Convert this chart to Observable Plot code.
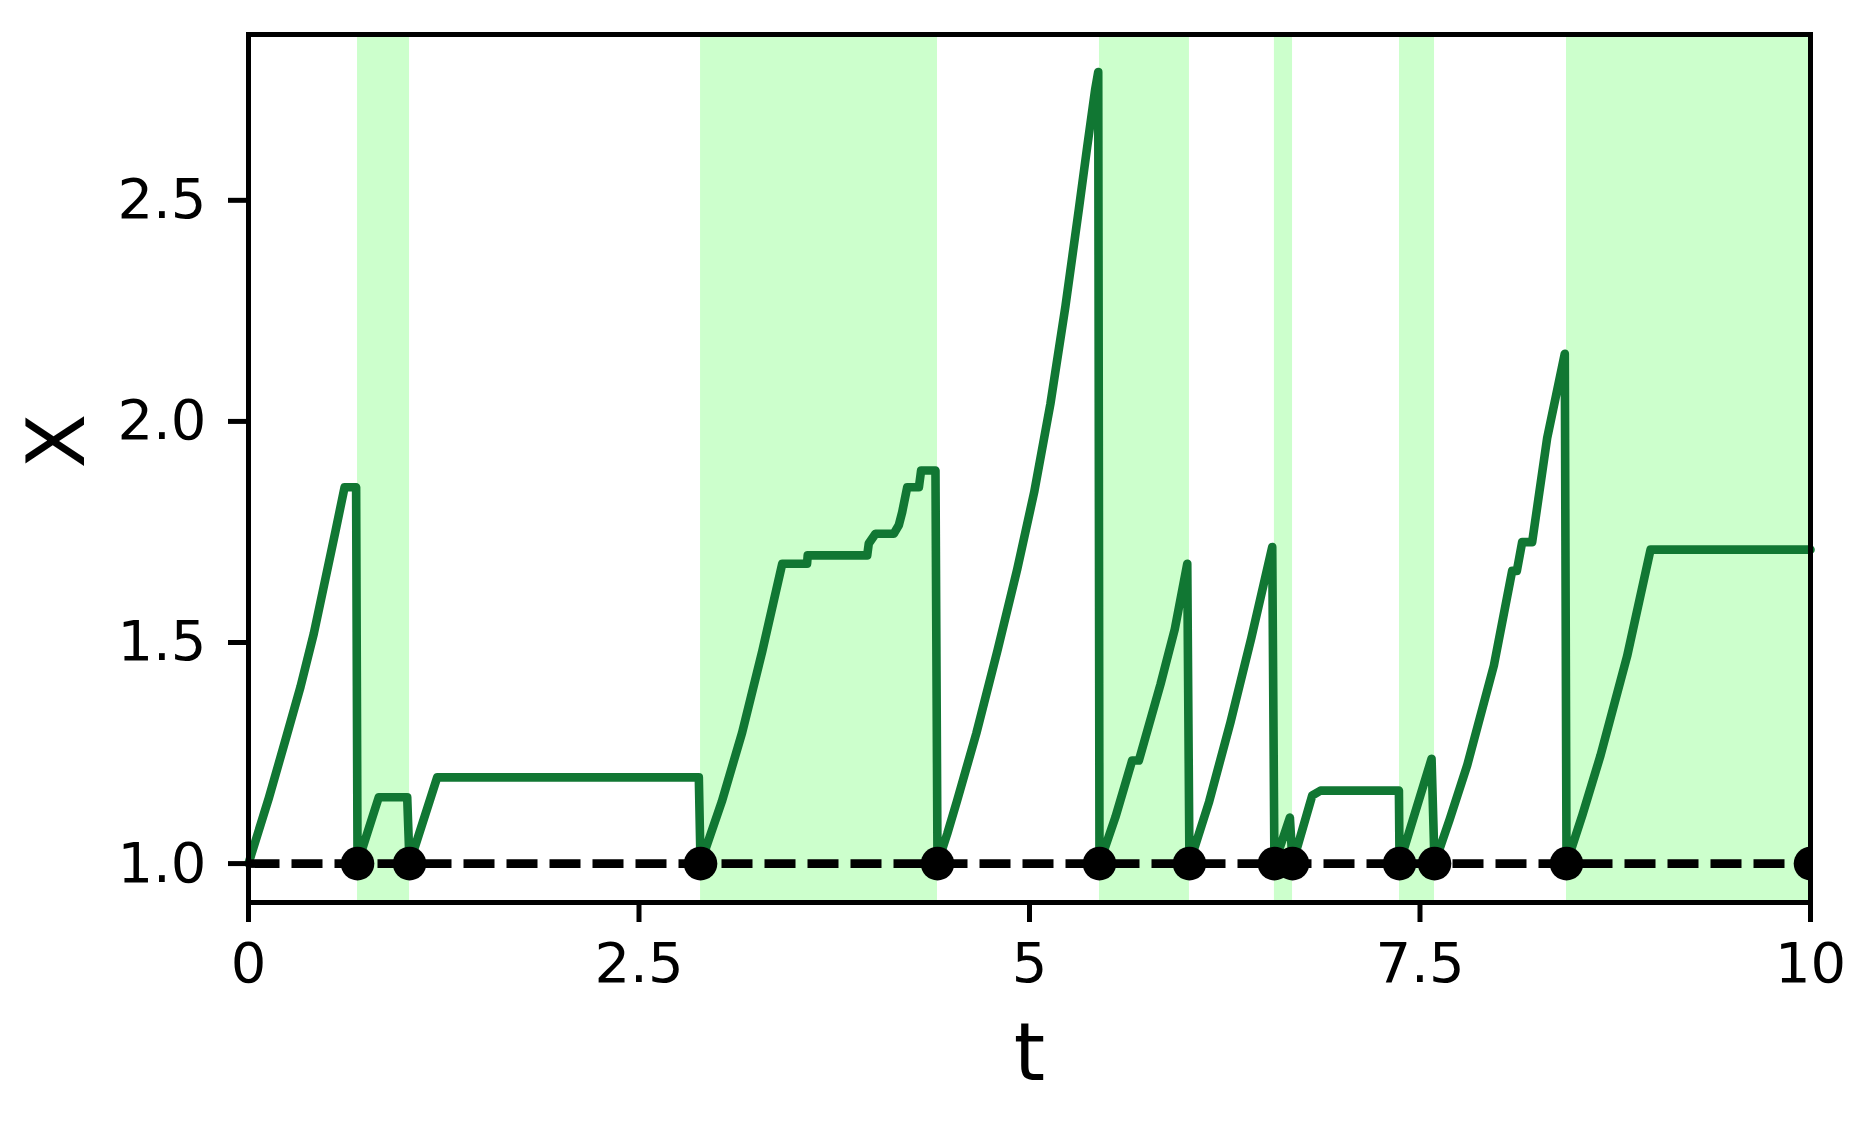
<!DOCTYPE html>
<html><head><meta charset="utf-8">
<script src="https://cdn.jsdelivr.net/npm/d3@7"></script>
<script src="https://cdn.jsdelivr.net/npm/@observablehq/plot@0.6"></script>
<style>html,body{margin:0;padding:0;background:#fff;overflow:hidden}</style>
</head><body><div id="chart"></div>
<script>
// Green trajectory X(t)
const pathT = [0,0.13,0.237,0.333,0.418,0.493,0.557,0.615,0.689,0.698,
  0.834,1.016,1.031,
  1.208,2.883,2.894,
  3.03,3.16,3.289,3.417,3.576,3.58,3.961,3.971,4.014,4.131,4.163,4.185,4.217,4.292,4.306,4.398,4.411,
  4.473,4.537,4.66,4.795,4.921,5.03,5.134,5.23,5.316,5.369,5.42,5.44,5.448,
  5.55,5.657,5.70,5.839,5.93,6.01,6.024,
  6.15,6.287,6.42,6.554,6.568,
  6.667,6.684,
  6.81,6.863,7.365,7.369,
  7.574,7.593,
  7.69,7.802,7.973,8.09,8.12,8.154,8.218,8.314,8.427,8.438,
  8.54,8.656,8.826,8.976,10];
const pathX = [1.0,1.148,1.28,1.40,1.52,1.645,1.752,1.851,1.851,1.0,
  1.150,1.150,1.0,
  1.195,1.195,1.0,
  1.14,1.296,1.48,1.678,1.678,1.697,1.697,1.724,1.746,1.746,1.765,1.795,1.851,1.851,1.889,1.889,1.0,
  1.067,1.143,1.295,1.482,1.665,1.84,2.04,2.26,2.48,2.62,2.75,2.79,1.0,
  1.105,1.233,1.233,1.406,1.53,1.678,1.0,
  1.14,1.32,1.51,1.716,1.0,
  1.104,1.0,
  1.154,1.165,1.165,1.0,
  1.237,1.0,
  1.10,1.222,1.448,1.662,1.662,1.727,1.727,1.962,2.153,1.0,
  1.11,1.245,1.469,1.71,1.71];
// Reset events (black dots on the baseline)
const jumpT = [0.698,1.031,2.894,4.411,5.448,6.024,6.568,6.684,7.369,7.593,8.438,10];
// Shaded intervals
const shadeStart = [0.698,2.894,5.448,6.568,7.369,8.438];
const shadeEnd   = [1.031,4.411,6.024,6.684,7.593,10];
const baseline = 1.0;
const tRange = [0,10];
const xTicks = [0,2.5,5,7.5,10];
const yTicks = [1.0,1.5,2.0,2.5];
const xLabel = "t";
const yLabel = "X";

const path = pathT.map((t,i)=>({t, x: pathX[i]}));
const shades = shadeStart.map((s,i)=>({s, e: shadeEnd[i]}));
const jumps = jumpT.map(t=>({t, x: baseline}));
const base = tRange.map(t=>({t, x: baseline}));

const chart = Plot.plot({
  width:1871, height:1124,
  marginLeft:248, marginRight:61, marginTop:34, marginBottom:222,
  style:{fontFamily:"DejaVu Sans", background:"white", color:"black"},
  x:{domain:tRange},
  y:{domain:[0.912,2.875]},
  marks:[
    Plot.rect(shades,{x1:"s",x2:"e",fill:"#ccffcc"}),
    Plot.line(path,{x:"t",y:"x",stroke:"#117733",strokeWidth:8.6,strokeLinejoin:"round"}),
    Plot.line(base,{x:"t",y:"x",stroke:"black",strokeWidth:8.6,strokeDasharray:"31,12",strokeLinecap:"butt"}),
    Plot.dot(jumps,{x:"t",y:"x",r:16.8,fill:"black",stroke:"none",clip:true}),
    Plot.frame({stroke:"black",strokeWidth:5}),
    Plot.axisX({ticks:xTicks, tickSize:20, tickPadding:20, fontSize:56, strokeWidth:5, label:null, tickFormat:d=>String(d)}),
    Plot.axisY({ticks:yTicks, tickSize:20, tickPadding:22, fontSize:56, strokeWidth:5, label:null, tickFormat:d3.format(".1f")}),
    Plot.text([xLabel],{frameAnchor:"bottom", dy:177, lineAnchor:"bottom", fontSize:80}),
    Plot.text([yLabel],{frameAnchor:"left", dx:-165, rotate:-90, lineAnchor:"bottom", fontSize:80})
  ]
});
document.getElementById("chart").appendChild(chart);
</script>
</body></html>
